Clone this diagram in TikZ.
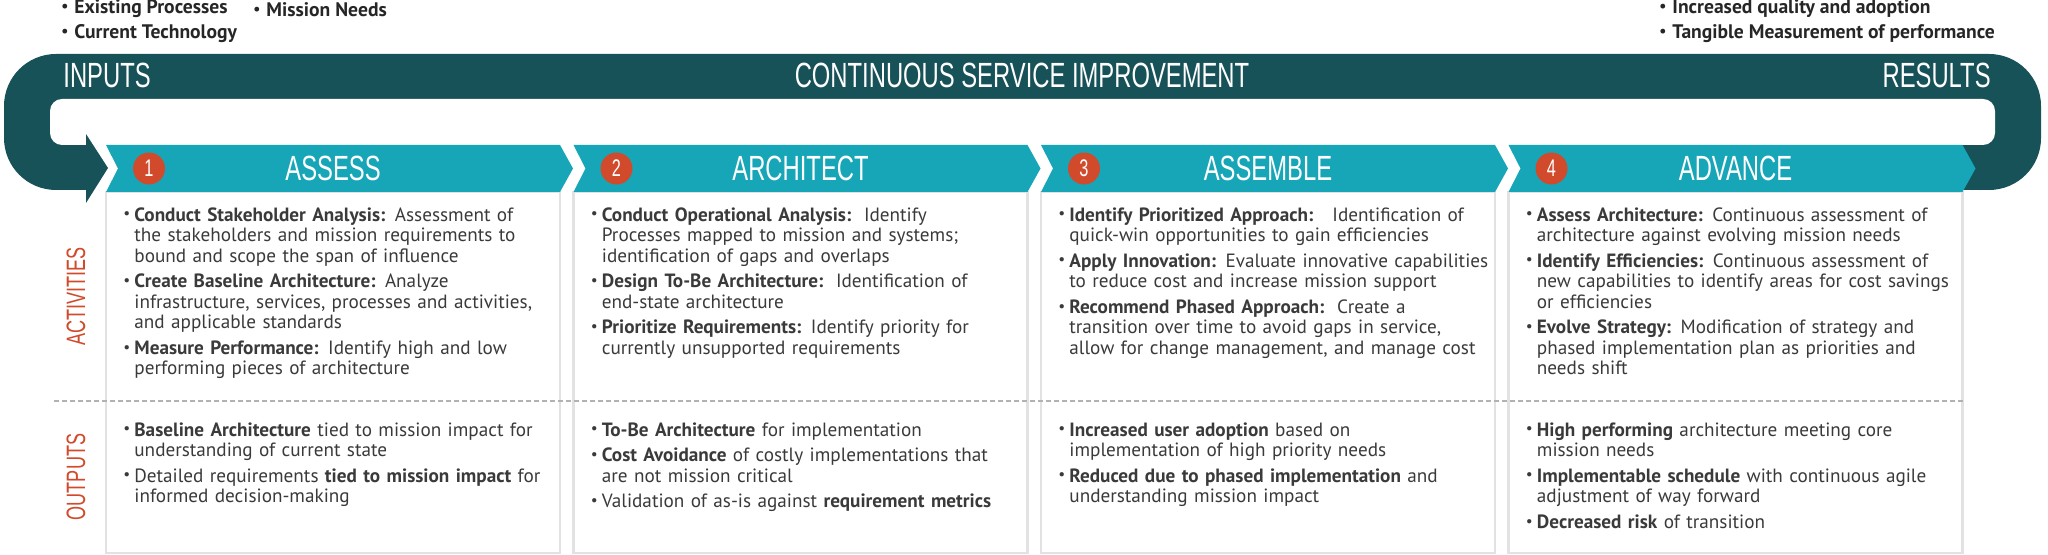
\documentclass[tikz,border=0pt]{standalone}
\usepackage{fontspec}
\usepackage{tikz}
\usetikzlibrary{positioning,calc}
\setmainfont{PT Sans}
\newfontfamily\condfont[FakeStretch=0.68]{Liberation Sans}
\definecolor{bandteal}{RGB}{23,82,89}
\definecolor{chevteal}{RGB}{23,166,184}
\definecolor{markred}{RGB}{208,74,43}
\definecolor{txtgray}{RGB}{58,58,58}
\definecolor{boxgray}{RGB}{226,226,226}
\newcommand{\dotmark}{\raisebox{0.25ex}{\scalebox{0.8}{\textbullet}}}
\newcommand{\itm}{\par\hangindent=5.5pt\hangafter=1\noindent\makebox[5.5pt][l]{\dotmark}}
\newcommand{\topitm}{\makebox[6.5pt][l]{\dotmark}}

\begin{document}
\begin{tikzpicture}[x=0.5pt, y=0.5pt, every node/.style={inner sep=0pt}]
  \tikzstyle{stagebox}=[draw=boxgray, line width=1.2pt, fill=white, minimum width=227pt, minimum height=180.5pt, outer sep=0pt]
  \tikzstyle{chev}=[fill=chevteal]
  \tikzstyle{bandtitle}=[text=white, font=\condfont\fontsize{17.5}{18}\selectfont]
  \tikzstyle{numdot}=[circle, fill=markred, text=white, minimum size=16pt, font=\condfont\fontsize{12}{12}\selectfont]
  \tikzstyle{rowlabel}=[rotate=90, text=markred, font=\condfont\fontsize{13.3}{14}\selectfont]
  \tikzstyle{itemlist}=[anchor=north west, text width=240pt, text=txtgray, font=\fontsize{9.6}{10.25}\selectfont, execute at begin node={\setlength{\parskip}{2.6pt}\hyphenpenalty=10000}]
  \tikzstyle{toptext}=[anchor=base west, text=black!85, font=\bfseries\fontsize{9.8}{10}\selectfont]
  \useasboundingbox (0,0) rectangle (2048,555);
  % loop band with arrow head
  \fill[bandteal, rounded corners=26pt] (4,365) rectangle (2041,501);
  \fill[white, rounded corners=6pt] (50,410) rectangle (1995,456);
  \fill[white] (86,360) rectangle (1960,410);
  \fill[bandteal] (86,421) -- (108,387) -- (86,352) -- cycle;
  \node[bandtitle, anchor=west] (inputs) at (63,479.5) {INPUTS};
  \node[bandtitle] (csi) at (1022,479.5) {CONTINUOUS SERVICE IMPROVEMENT};
  \node[bandtitle, anchor=east] (results) at (1991,479.5) {RESULTS};
  % inputs and results
  \node[toptext] (in1) at (61,541) {\topitm Existing Processes};
  \node[toptext] (in2) at (61,516) {\topitm Current Technology};
  \node[toptext] (in3) at (253,538) {\topitm Mission Needs};
  \node[toptext] (res1) at (1659,541) {\topitm Increased quality and adoption};
  \node[toptext] (res2) at (1659,516) {\topitm Tangible Measurement of performance};
  % stage boxes
  \node[stagebox] (b1) at (333,182.5) {};
  \node[stagebox, right=6.75pt of b1] (b2) {};
  \node[stagebox, right=6.75pt of b2] (b3) {};
  \node[stagebox, right=6.75pt of b3] (b4) {};
  % chevrons
  \fill[chev] (b1.north west) -- ++(12,23.5) -- ++(-12,23.5) -- ($(b1.north east)+(0,47)$) -- ++(13,-23.5) -- ++(-13,-23.5) -- cycle;
  \fill[chev] (b2.north west) -- ++(12,23.5) -- ++(-12,23.5) -- ($(b2.north east)+(0,47)$) -- ++(13,-23.5) -- ++(-13,-23.5) -- cycle;
  \fill[chev] (b3.north west) -- ++(12,23.5) -- ++(-12,23.5) -- ($(b3.north east)+(0,47)$) -- ++(13,-23.5) -- ++(-13,-23.5) -- cycle;
  \fill[chev] (b4.north west) -- ++(12,23.5) -- ++(-12,23.5) -- ($(b4.north east)+(0,47)$) -- ++(13,-23.5) -- ++(-13,-23.5) -- cycle;
  \node[numdot] (n1) at ($(b1.north west)+(43,23.5)$) {1};
  \node[numdot] (n2) at ($(b2.north west)+(43,23.5)$) {2};
  \node[numdot] (n3) at ($(b3.north west)+(43,23.5)$) {3};
  \node[numdot] (n4) at ($(b4.north west)+(43,23.5)$) {4};
  \node[bandtitle] (t1) at ($(b1.north)+(0,23.5)$) {ASSESS};
  \node[bandtitle] (t2) at ($(b2.north)+(0,23.5)$) {ARCHITECT};
  \node[bandtitle] (t3) at ($(b3.north)+(0,23.5)$) {ASSEMBLE};
  \node[bandtitle] (t4) at ($(b4.north)+(0,23.5)$) {ADVANCE};
  % divider and row labels
  \coordinate (cut) at (54,154);
  \draw[gray!60, line width=1pt, dash pattern=on 2.3pt off 1.7pt] (cut) -- (cut -| b4.east);
  \node[rowlabel] (act) at (76,258.5) {ACTIVITIES};
  \node[rowlabel] (outp) at (76,78) {OUTPUTS};
  % activities
  \node[itemlist] (a1) at ($(b1.north west)+(17,-3)$) {%
    \itm\textbf{Conduct Stakeholder Analysis:} Assessment of\newline the stakeholders and mission requirements to\newline bound and scope the span of influence
    \itm\textbf{Create Baseline Architecture:} Analyze\newline infrastructure, services, processes and activities,\newline and applicable standards
    \itm\textbf{Measure Performance:} Identify high and low\newline performing pieces of architecture\par};
  \node[itemlist] (a2) at ($(b2.north west)+(17,-3)$) {%
    \itm\textbf{Conduct Operational Analysis:}\ \ Identify\newline Processes mapped to mission and systems;\newline identification of gaps and overlaps
    \itm\textbf{Design To-Be Architecture:}\ \ Identification of\newline end-state architecture
    \itm\textbf{Prioritize Requirements:} Identify priority for\newline currently unsupported requirements\par};
  \node[itemlist] (a3) at ($(b3.north west)+(17,-3)$) {%
    \itm\textbf{Identify Prioritized Approach:}\ \ \ Identification of\newline quick-win opportunities to gain efficiencies
    \itm\textbf{Apply Innovation:} Evaluate innovative capabilities\newline to reduce cost and increase mission support
    \itm\textbf{Recommend Phased Approach:}\ \ Create a\newline transition over time to avoid gaps in service,\newline allow for change management, and manage cost\par};
  \node[itemlist] (a4) at ($(b4.north west)+(17,-3)$) {%
    \itm\textbf{Assess Architecture:} Continuous assessment of\newline architecture against evolving mission needs
    \itm\textbf{Identify Efficiencies:} Continuous assessment of\newline new capabilities to identify areas for cost savings\newline or efficiencies
    \itm\textbf{Evolve Strategy:} Modification of strategy and\newline phased implementation plan as priorities and\newline needs shift\par};
  % outputs
  \node[itemlist] (o1) at ($(b1.west |- cut)+(17,-9)$) {%
    \itm\textbf{Baseline Architecture} tied to mission impact for\newline understanding of current state
    \itm Detailed requirements \textbf{tied to mission impact} for\newline informed decision-making\par};
  \node[itemlist] (o2) at ($(b2.west |- cut)+(17,-9)$) {%
    \itm\textbf{To-Be Architecture} for implementation
    \itm\textbf{Cost Avoidance} of costly implementations that\newline are not mission critical
    \itm Validation of as-is against \textbf{requirement metrics}\par};
  \node[itemlist] (o3) at ($(b3.west |- cut)+(17,-9)$) {%
    \itm\textbf{Increased user adoption} based on\newline implementation of high priority needs
    \itm\textbf{Reduced due to phased implementation} and\newline understanding mission impact\par};
  \node[itemlist] (o4) at ($(b4.west |- cut)+(17,-9)$) {%
    \itm\textbf{High performing} architecture meeting core\newline mission needs
    \itm\textbf{Implementable schedule} with continuous agile\newline adjustment of way forward
    \itm\textbf{Decreased risk} of transition\par};
\end{tikzpicture}
\end{document}
